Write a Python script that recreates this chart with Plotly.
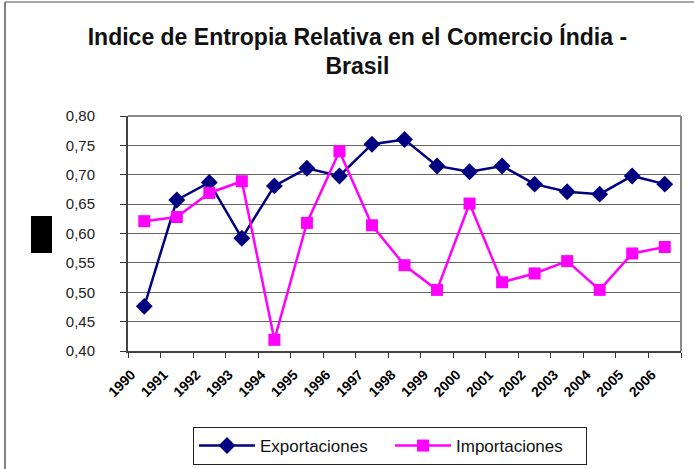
import plotly.graph_objects as go

years = [str(y) for y in range(1990, 2007)]
exportaciones = [0.476, 0.657, 0.687, 0.592, 0.681, 0.711, 0.698, 0.752, 0.760,
                 0.715, 0.705, 0.715, 0.684, 0.671, 0.667, 0.698, 0.684]
importaciones = [0.621, 0.628, 0.669, 0.689, 0.419, 0.618, 0.740, 0.614, 0.546,
                 0.504, 0.651, 0.517, 0.532, 0.553, 0.504, 0.566, 0.577]

fig = go.Figure()
fig.add_trace(go.Scatter(
    x=years, y=exportaciones, name="Exportaciones", mode="lines+markers",
    line=dict(color="#000080", width=2.5),
    marker=dict(symbol="diamond", size=13, color="#000080")))
fig.add_trace(go.Scatter(
    x=years, y=importaciones, name="Importaciones", mode="lines+markers",
    line=dict(color="#FF00FF", width=2.5),
    marker=dict(symbol="square", size=12, color="#FF00FF")))

fig.update_layout(
    width=694, height=469,
    margin=dict(l=128, r=13, t=116, b=118, autoexpand=False),
    paper_bgcolor="white", plot_bgcolor="white",
    separators=",.",
    font=dict(family="Liberation Sans, Arial, sans-serif", color="#222"),
    title=dict(text="<b>Indice de Entropia Relativa en el Comercio Índia -<br>Brasil</b>",
               x=0.515, xanchor="center", y=0.905, yanchor="top",
               font=dict(size=23, color="#111")),
    showlegend=True,
    legend=dict(orientation="h", x=(193 - 128) / 553, y=(351 - 427) / 235,
                xanchor="left", yanchor="top",
                bordercolor="#222", borderwidth=1, bgcolor="white",
                font=dict(size=17, color="#111"), itemwidth=56,
                entrywidthmode="pixels", entrywidth=125),
    xaxis=dict(type="category", range=[-0.5, 16.5], tickson="boundaries",
               ticks="outside", ticklen=5, tickcolor="#333", automargin=False,
               showline=True, linecolor="#444", linewidth=2, mirror=False,
               showgrid=False, tickangle=-45, ticklabelshift=-13,
               ticklabelstandoff=8,
               tickfont=dict(size=14, color="#000", weight="bold",
                             family="Liberation Sans, Arial")),
    yaxis=dict(range=[0.40, 0.80], dtick=0.05, tickformat=".2f", automargin=False,
               ticks="outside", ticklen=6, tickcolor="#333", ticklabelstandoff=22,
               showline=True, linecolor="#444", linewidth=2,
               showgrid=True, gridcolor="#666", gridwidth=1,
               tickfont=dict(size=15, color="#222")),
    shapes=[
        dict(type="line", xref="paper", yref="paper", x0=0, x1=1, y0=1, y1=1,
             line=dict(color="#888", width=2)),
        dict(type="line", xref="paper", yref="paper", x0=1, x1=1, y0=0, y1=1,
             line=dict(color="#888", width=2)),
        dict(type="rect", xref="paper", yref="paper",
             x0=(31 - 128) / 553, x1=(52 - 128) / 553,
             y0=(351 - 253) / 235, y1=(351 - 216) / 235,
             fillcolor="black", line=dict(width=0)),
        dict(type="line", xref="paper", yref="paper",
             x0=(5 - 128) / 553, x1=(5 - 128) / 553,
             y0=(351 - 469) / 235, y1=(351 - 2) / 235,
             line=dict(color="#555", width=1.5)),
        dict(type="line", xref="paper", yref="paper",
             x0=(5 - 128) / 553, x1=(694 - 128) / 553,
             y0=(351 - 2) / 235, y1=(351 - 2) / 235,
             line=dict(color="#888", width=1.5)),
    ],
)

fig.write_html("out.html", config={"displayModeBar": False},
               post_script="document.body.style.margin='0';document.body.style.padding='0';")
